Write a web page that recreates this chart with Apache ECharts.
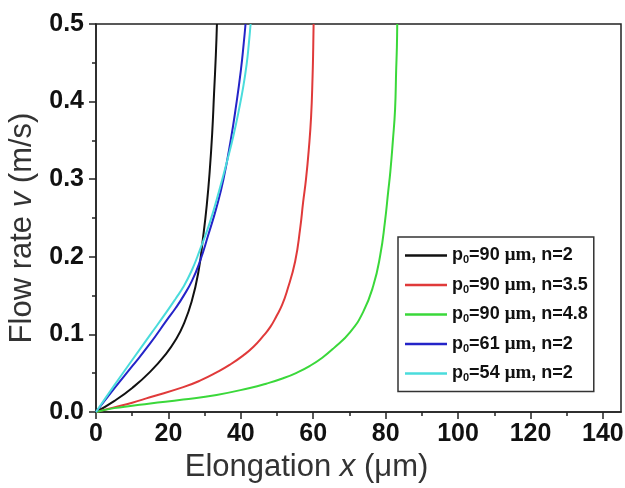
<!DOCTYPE html>
<html><head><meta charset="utf-8">
<script src="https://cdn.jsdelivr.net/npm/echarts@6/dist/echarts.min.js"></script>
<style>html,body{margin:0;padding:0;background:#fff}#c{width:625px;height:488px}</style>
</head><body><div id="c"></div>
<script>
// ---- data ----
var seriesNames = ['p0=90 μm, n=2', 'p0=90 μm, n=3.5', 'p0=90 μm, n=4.8', 'p0=61 μm, n=2', 'p0=54 μm, n=2'];
var p0Values = ['90', '90', '90', '61', '54'];
var nValues = ['2', '3.5', '4.8', '2', '2'];
var seriesColors = ['#111111', '#e03a3a', '#3ad83a', '#2424c8', '#4adcdc'];

var xBlack = [0, 5, 10, 15, 19.5, 22, 24.1, 26.4, 28.3, 29.6, 30.6, 31.4, 32.1, 32.6, 33.1, 33.4];
var yBlack = [0, 0.014, 0.031, 0.052, 0.076, 0.093, 0.112, 0.142, 0.181, 0.226, 0.267, 0.31, 0.36, 0.41, 0.46, 0.5];

var xRed = [0, 5, 10, 14.9, 24.1, 29, 33.3, 37, 40.7, 43.5, 46.2, 48.2, 49.9, 51.4, 52.7, 55.0, 56.4, 57.2, 58.0, 58.8, 59.4, 59.8, 60.0, 60.1];
var yRed = [0, 0.006, 0.012, 0.019, 0.032, 0.041, 0.051, 0.061, 0.073, 0.084, 0.098, 0.11, 0.124, 0.138, 0.155, 0.194, 0.237, 0.27, 0.3, 0.34, 0.38, 0.43, 0.47, 0.5];

var xGreen = [0, 5, 10, 15, 24.1, 33.3, 42.5, 47, 51.7, 55.4, 59.1, 62.5, 65.6, 70.2, 73.8, 76.6, 78.5, 79.8, 80.7, 81.3, 82.0, 82.6, 82.9, 83.1, 83.2];
var yGreen = [0, 0.005, 0.008, 0.011, 0.016, 0.022, 0.031, 0.0365, 0.0435, 0.0505, 0.0595, 0.07, 0.082, 0.103, 0.129, 0.163, 0.202, 0.245, 0.284, 0.31, 0.35, 0.39, 0.44, 0.47, 0.5];

var xBlue = [0, 5, 10, 14.9, 19.5, 22, 24.1, 26.5, 28.7, 31.0, 33.3, 35.2, 37.2, 38.7, 40.0, 40.8, 41.3];
var yBlue = [0, 0.03, 0.059, 0.088, 0.118, 0.134, 0.149, 0.169, 0.194, 0.228, 0.264, 0.3, 0.35, 0.395, 0.44, 0.475, 0.5];

var xCyan = [0, 5, 10, 14.9, 19.5, 22, 24.1, 26.5, 28.7, 31.5, 34.3, 36.3, 38, 39.5, 40.7, 41.6, 42.2, 42.7];
var yCyan = [0, 0.034, 0.067, 0.099, 0.129, 0.146, 0.161, 0.183, 0.209, 0.245, 0.29, 0.325, 0.357, 0.39, 0.42, 0.448, 0.474, 0.5];

var xSets = [xBlack, xRed, xGreen, xBlue, xCyan];
var ySets = [yBlack, yRed, yGreen, yBlue, yCyan];

var xMajorTicks = [0, 20, 40, 60, 80, 100, 120, 140];
var xMinorTicks = [10, 30, 50, 70, 90, 110, 130];

// ---- chart ----
function pairs(xs, ys) { return xs.map(function (x, i) { return [x, ys[i]]; }); }

var series = seriesNames.map(function (name, i) {
  return {
    name: name, type: 'line', xAxisIndex: 0, yAxisIndex: 0,
    data: pairs(xSets[i], ySets[i]),
    showSymbol: false, smooth: 0.5,
    lineStyle: { color: seriesColors[i], width: 2 },
    itemStyle: { color: seriesColors[i] },
    z: 3
  };
});

var chart = echarts.init(document.getElementById('c'), null, { renderer: 'canvas' });
chart.setOption({
  animation: false,
  backgroundColor: '#fff',
  grid: { left: 96, right: 4, top: 24, bottom: 76, containLabel: false, outerBoundsMode: 'none',
    show: true, borderColor: '#222', borderWidth: 1.5, backgroundColor: 'transparent' },
  xAxis: [{
    type: 'value', min: 0, max: 145, interval: 20, position: 'bottom',
    axisLine: { show: true, onZero: false, lineStyle: { color: '#222', width: 1.5 } },
    axisTick: { show: true, inside: false, length: 7, lineStyle: { color: '#222', width: 1.5 }, customValues: xMajorTicks },
    axisLabel: { customValues: xMajorTicks, color: '#111', fontFamily: 'Liberation Sans, Arial', fontWeight: 'bold', fontSize: 25, margin: 10 },
    splitLine: { show: false },
    name: 'Elongation {i|x} (μm)', nameLocation: 'middle', nameGap: 35,
    nameTextStyle: { color: '#333', fontFamily: 'Liberation Sans, Arial', fontSize: 31, padding: [0, 104, 0, 0],
      rich: { i: { fontStyle: 'italic', fontFamily: 'Liberation Sans, Arial', fontSize: 31, color: '#333' } } }
  }, {
    type: 'value', min: 0, max: 145, position: 'bottom', gridIndex: 0,
    axisLine: { show: false },
    axisTick: { show: true, length: 4, lineStyle: { color: '#222', width: 1.5 }, customValues: xMinorTicks },
    axisLabel: { show: false }, splitLine: { show: false }
  }],
  yAxis: [{
    type: 'value', min: 0, max: 0.5, interval: 0.1,
    axisLine: { show: true, onZero: false, lineStyle: { color: '#222', width: 1.5 } },
    axisTick: { show: true, length: 7, lineStyle: { color: '#222', width: 1.5 } },
    minorTick: { show: true, splitNumber: 2, length: 4, lineStyle: { color: '#222', width: 1.5 } },
    axisLabel: { color: '#111', fontFamily: 'Liberation Sans, Arial', fontWeight: 'bold', fontSize: 25, margin: 12,
      formatter: function (v) { return v.toFixed(1); } },
    splitLine: { show: false },
    name: 'Flow rate {i|v} (m/s)', nameLocation: 'middle', nameGap: 54, nameRotate: 90,
    nameTextStyle: { color: '#333', fontFamily: 'Liberation Sans, Arial', fontSize: 31, padding: [0, 20, 0, 0],
      rich: { i: { fontStyle: 'italic', fontFamily: 'Liberation Sans, Arial', fontSize: 31, color: '#333' } } }
  }],
  legend: {
    orient: 'vertical', left: 398, top: 237,
    backgroundColor: '#fff',
    borderColor: '#333', borderWidth: 1.5, borderRadius: 0,
    padding: [9, 6, 8, 7],
    itemWidth: 42, itemHeight: 2.5, itemGap: 10,
    icon: 'rect',
    data: seriesNames.map(function (n, i) { return { name: n, icon: 'rect', itemStyle: { color: seriesColors[i] } }; }),
    formatter: function (name) {
      var i = seriesNames.indexOf(name);
      return '{b|p}{sub|0}{b|=' + p0Values[i] + ' }{mu|μm}{b|, n=' + nValues[i] + '}';
    },
    textStyle: {
      rich: {
        b: { fontFamily: 'Liberation Sans, Arial', fontWeight: 'bold', fontSize: 18, color: '#111', lineHeight: 20, verticalAlign: 'middle' },
        sub: { fontFamily: 'Liberation Sans, Arial', fontWeight: 'bold', fontSize: 11, color: '#111', lineHeight: 11, verticalAlign: 'bottom' },
        mu: { fontFamily: 'Liberation Serif, Times New Roman', fontWeight: 'bold', fontSize: 19, color: '#111', lineHeight: 20, verticalAlign: 'middle' }
      }
    }
  },
  series: series
});
</script>
</body></html>
